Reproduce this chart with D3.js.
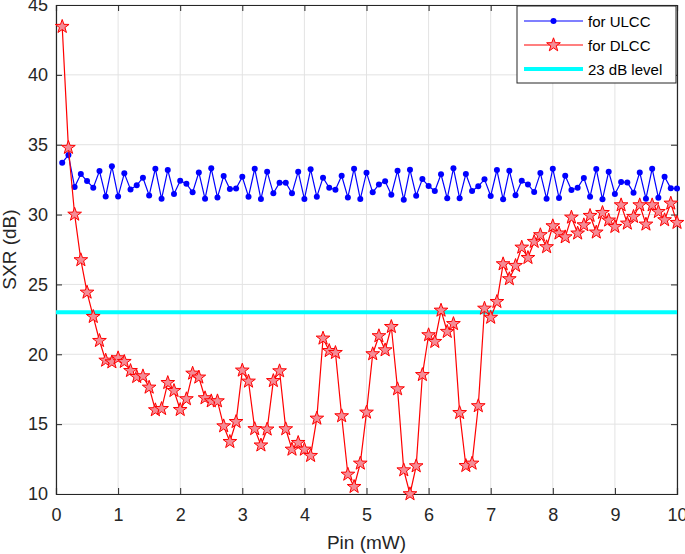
<!DOCTYPE html>
<html><head><meta charset="utf-8">
<script src="https://cdn.jsdelivr.net/npm/d3@7"></script>
<style>body{margin:0;background:#fff}svg{display:block}</style>
</head><body>
<svg id="c" width="685" height="554"></svg>
<script>
const pin = d3.range(1, 101).map(i => +(i * 0.1).toFixed(1));
const ulcc = [33.71,34.26,31.97,32.9,32.4,31.92,33.11,31.3,33.45,31.3,
32.95,31.8,32.09,32.64,31.37,33.28,31.13,33.19,31.47,32.42,
32.21,31.59,33.02,31.13,33.31,31.23,32.76,31.83,31.87,32.7,
31.28,33.28,31.11,33.07,31.52,32.28,32.28,31.52,33.07,31.11,
33.24,31.28,32.64,31.92,31.78,32.78,31.23,33.28,31.11,33.0,
31.59,32.16,32.38,31.42,33.14,31.06,33.21,31.35,32.54,32.04,
31.69,32.88,31.16,33.31,31.16,32.9,31.69,32.02,32.52,31.33,
33.19,31.09,33.14,31.38,32.42,32.16,31.61,32.97,31.14,33.28,
31.19,32.78,31.76,31.92,32.62,31.28,33.26,31.09,33.07,31.47,
32.33,32.3,31.57,33.02,31.14,33.28,31.21,32.71,31.88,31.86];
const dlcc = [43.45,34.79,30.01,26.75,24.43,22.69,20.97,19.56,19.44,19.73,
19.47,18.82,18.39,18.44,17.63,16.01,16.1,17.96,17.39,16.03,
16.8,18.63,18.35,16.87,16.65,16.65,14.86,13.74,15.17,18.85,
18.06,14.66,13.49,14.63,18.1,18.8,14.65,13.19,13.67,13.19,
12.74,15.41,21.14,20.25,20.11,15.58,11.4,10.52,12.19,15.84,
20.02,21.31,20.3,21.97,17.51,11.71,10.0,12.0,18.53,21.38,
20.9,23.14,21.62,22.18,15.81,12.02,12.19,16.3,23.28,22.63,
23.76,26.46,25.39,26.34,27.65,26.91,28.06,28.54,27.68,29.18,
28.66,28.39,29.8,28.66,29.25,29.92,28.73,30.13,29.59,29.13,
30.68,29.37,29.85,30.68,29.3,30.68,30.2,29.61,30.8,29.42];
const levelDb = 23;
const xTicks = [0,1,2,3,4,5,6,7,8,9,10];
const yTicks = [10,15,20,25,30,35,40,45];
const legendLabels = ["for ULCC", "for DLCC", "23 dB level"];

const svg = d3.select("#c");
const L = 56, R = 677, T = 5, B = 494;
const x = d3.scaleLinear().domain([0, 10]).range([L, R]);
const y = d3.scaleLinear().domain([10, 45]).range([B, T]);
const font = "'Liberation Sans', Arial, sans-serif";

// grid
const g = svg.append("g");
g.selectAll(".gx").data(xTicks).join("line")
  .attr("x1", d => x(d)).attr("x2", d => x(d)).attr("y1", T).attr("y2", B)
  .attr("stroke", "#e3e3e3").attr("stroke-width", 1);
g.selectAll(".gy").data(yTicks).join("line")
  .attr("x1", L).attr("x2", R).attr("y1", d => y(d)).attr("y2", d => y(d))
  .attr("stroke", "#e3e3e3").attr("stroke-width", 1);

// axes
const ax = svg.append("g").attr("transform", `translate(0,${B})`)
  .call(d3.axisBottom(x).tickValues(xTicks).tickSize(-6).tickPadding(14).tickFormat(d3.format("d")));
const ay = svg.append("g").attr("transform", `translate(${L},0)`)
  .call(d3.axisLeft(y).tickValues(yTicks).tickSize(-6).tickPadding(8).tickFormat(d3.format("d")));
const axT = svg.append("g").attr("transform", `translate(0,${T})`)
  .call(d3.axisTop(x).tickValues(xTicks).tickSize(-6).tickFormat(""));
const ayR = svg.append("g").attr("transform", `translate(${R},0)`)
  .call(d3.axisRight(y).tickValues(yTicks).tickSize(-6).tickFormat(""));
[ax, ay, axT, ayR].forEach(a => {
  a.select(".domain").attr("stroke", "#262626").attr("stroke-width", 1.2);
  a.selectAll(".tick line").attr("stroke", "#262626");
  a.selectAll("text").attr("font-family", font).attr("font-size", 18).attr("fill", "#262626");
});

// 23 dB level
svg.append("line").attr("x1", x(0)).attr("x2", x(10)).attr("y1", y(levelDb)).attr("y2", y(levelDb))
  .attr("stroke", "#00ffff").attr("stroke-width", 4);

// ULCC
const line = d3.line().x(d => x(d[0])).y(d => y(d[1]));
const uData = pin.map((p, i) => [p, ulcc[i]]);
const dData = pin.map((p, i) => [p, dlcc[i]]);
svg.append("path").attr("d", line(uData)).attr("fill", "none").attr("stroke", "#0000ff").attr("stroke-width", 1.2);
svg.selectAll(".u").data(uData).join("circle")
  .attr("cx", d => x(d[0])).attr("cy", d => y(d[1])).attr("r", 3).attr("fill", "#0000ff");

// DLCC
function starPath(r) {
  const ri = r * 0.4;
  let p = [];
  for (let k = 0; k < 10; k++) {
    const rad = k % 2 === 0 ? r : ri;
    const a = -Math.PI / 2 + k * Math.PI / 5;
    p.push([rad * Math.cos(a), rad * Math.sin(a)]);
  }
  return "M" + p.map(q => q[0].toFixed(2) + "," + q[1].toFixed(2)).join("L") + "Z";
}
const sp = starPath(7.2);
svg.append("path").attr("d", line(dData)).attr("fill", "none").attr("stroke", "#ff0000").attr("stroke-width", 1.2);
svg.selectAll(".d").data(dData).join("path")
  .attr("d", sp).attr("transform", d => `translate(${x(d[0])},${y(d[1])})`)
  .attr("fill", "#f48c96").attr("stroke", "#ff0000").attr("stroke-width", 1);

// axis titles
svg.append("text").attr("x", (L + R) / 2).attr("y", 549).attr("text-anchor", "middle")
  .attr("font-family", font).attr("font-size", 19).attr("fill", "#262626").text("Pin (mW)");
svg.append("text").attr("transform", `translate(16,${(T + B) / 2}) rotate(-90)`).attr("text-anchor", "middle")
  .attr("font-family", font).attr("font-size", 19).attr("fill", "#262626").text("SXR (dB)");

// legend
const lg = svg.append("g");
lg.append("rect").attr("x", 517).attr("y", 6).attr("width", 159).attr("height", 77)
  .attr("fill", "#fff").attr("stroke", "#262626").attr("stroke-width", 1);
const rows = [21, 45, 69];
const lx1 = 524, lx2 = 583;
lg.append("line").attr("x1", lx1).attr("x2", lx2).attr("y1", rows[0]).attr("y2", rows[0]).attr("stroke", "#0000ff").attr("stroke-width", 1.2);
lg.append("circle").attr("cx", (lx1 + lx2) / 2).attr("cy", rows[0]).attr("r", 3).attr("fill", "#0000ff");
lg.append("line").attr("x1", lx1).attr("x2", lx2).attr("y1", rows[1]).attr("y2", rows[1]).attr("stroke", "#ff0000").attr("stroke-width", 1.2);
lg.append("path").attr("d", sp).attr("transform", `translate(${(lx1 + lx2) / 2},${rows[1]})`)
  .attr("fill", "#f48c96").attr("stroke", "#ff0000").attr("stroke-width", 1);
lg.append("line").attr("x1", lx1).attr("x2", lx2).attr("y1", rows[2]).attr("y2", rows[2]).attr("stroke", "#00ffff").attr("stroke-width", 4);
lg.selectAll(".lt").data(legendLabels).join("text")
  .attr("x", 588).attr("y", (d, i) => rows[i] + 5.5)
  .attr("font-family", font).attr("font-size", 15).attr("fill", "#000").text(d => d);
</script>
</body></html>
